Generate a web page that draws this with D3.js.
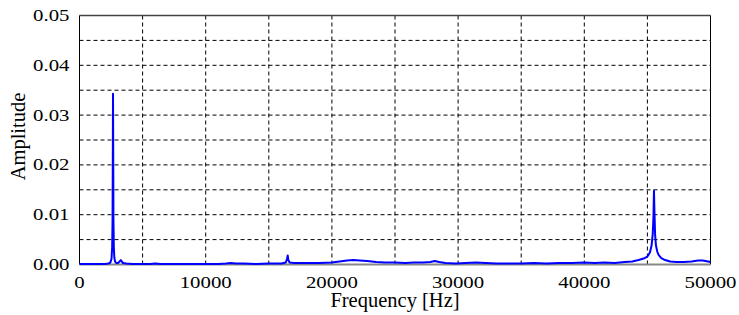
<!DOCTYPE html>
<html>
<head>
<meta charset="utf-8">
<script src="https://cdn.jsdelivr.net/npm/d3@7"></script>
<style>
  body { margin: 0; background: #fff; }
</style>
</head>
<body>
<div id="chart"></div>
<script>
// spectrum (Hz, amplitude)
var freq = [0, 500, 1000, 1500, 2000, 2300, 2450, 2540, 2590, 2620, 2640, 2655, 2670, 2690, 2720, 2760, 2820, 2900, 3050, 3180, 3270, 3350, 3450, 3700, 4200, 5000, 5600, 6000, 6400, 7000, 8000, 9000, 10000, 11000, 11600, 12000, 12400, 13000, 14000, 15000, 16000, 16350, 16450, 16500, 16550, 16650, 17000, 18000, 19000, 20000, 20600, 21200, 21700, 22200, 22800, 23500, 24200, 25000, 25800, 26500, 27200, 27800, 28150, 28500, 29000, 29800, 30600, 31400, 32200, 33000, 34000, 35000, 36000, 37000, 38000, 39000, 40000, 40800, 41600, 42400, 43200, 43800, 44300, 44700, 45000, 45200, 45330, 45420, 45480, 45520, 45560, 45610, 45680, 45780, 45900, 46100, 46400, 46800, 47300, 47900, 48500, 49000, 49400, 49800, 50000];
var amp = [0.0001, 0.0001, 0.0001, 0.0001, 0.0001, 0.0002, 0.0004, 0.0012, 0.0035, 0.009, 0.022, 0.0343, 0.024, 0.009, 0.0035, 0.0014, 0.0006, 0.0003, 0.0003, 0.0006, 0.0009, 0.0006, 0.0003, 0.0002, 0.0001, 0.0001, 0.0001, 0.0002, 0.0001, 0.0001, 0.0001, 0.0001, 0.0001, 0.0001, 0.0002, 0.0003, 0.0002, 0.0002, 0.0001, 0.0002, 0.0002, 0.0004, 0.0012, 0.0018, 0.0009, 0.0004, 0.0003, 0.0003, 0.0003, 0.0004, 0.0006, 0.0008, 0.0009, 0.0008, 0.0007, 0.0005, 0.0004, 0.0004, 0.0003, 0.0004, 0.0004, 0.0005, 0.0007, 0.0005, 0.0003, 0.0002, 0.0003, 0.0004, 0.0003, 0.0002, 0.0002, 0.0002, 0.0003, 0.0002, 0.0003, 0.0003, 0.0004, 0.0003, 0.0004, 0.0003, 0.0005, 0.0006, 0.0009, 0.0012, 0.0016, 0.0024, 0.0038, 0.006, 0.0095, 0.0148, 0.0105, 0.006, 0.0038, 0.0026, 0.0019, 0.0013, 0.0009, 0.0006, 0.0005, 0.0005, 0.0006, 0.0008, 0.0008, 0.0006, 0.0005];

var xTicks = [0, 10000, 20000, 30000, 40000, 50000];
var yTicks = [0, 0.01, 0.02, 0.03, 0.04, 0.05];
var xGrid = [5000, 10000, 15000, 20000, 25000, 30000, 35000, 40000, 45000];
var yGrid = [0.005, 0.01, 0.015, 0.02, 0.025, 0.03, 0.035, 0.04, 0.045];

var width = 739, height = 315;
var margin = {left: 79.5, right: 28.5, top: 15.5, bottom: 50.5};
var serif = "'Liberation Serif', 'Times New Roman', Tinos, 'DejaVu Serif', serif";

var svg = d3.select("#chart").append("svg")
    .attr("width", width)
    .attr("height", height)
    .attr("font-family", serif);

var x = d3.scaleLinear().domain([0, 50000]).range([margin.left, width - margin.right]);
var y = d3.scaleLinear().domain([0, 0.05]).range([height - margin.bottom, margin.top]);

// dashed grid
svg.append("g").selectAll("line")
    .data(xGrid)
  .enter().append("line")
    .attr("x1", d => x(d)).attr("x2", d => x(d))
    .attr("y1", y(0)).attr("y2", y(0.05))
    .attr("stroke", "#000")
    .attr("stroke-dasharray", "4,3");

svg.append("g").selectAll("line")
    .data(yGrid)
  .enter().append("line")
    .attr("x1", x(0)).attr("x2", x(50000))
    .attr("y1", d => y(d)).attr("y2", d => y(d))
    .attr("stroke", "#000")
    .attr("stroke-dasharray", "4,3");

// frame
svg.append("line")
    .attr("x1", x(0)).attr("x2", x(50000))
    .attr("y1", y(0.05)).attr("y2", y(0.05))
    .attr("stroke", "#444").attr("stroke-width", 1.5);
svg.append("line")
    .attr("x1", x(0)).attr("x2", x(0))
    .attr("y1", y(0)).attr("y2", y(0.05))
    .attr("stroke", "#000");
svg.append("line")
    .attr("x1", x(50000)).attr("x2", x(50000))
    .attr("y1", y(0)).attr("y2", y(0.05))
    .attr("stroke", "#000");
svg.append("line")
    .attr("x1", x(0)).attr("x2", x(50000))
    .attr("y1", y(0)).attr("y2", y(0))
    .attr("stroke", "#888").attr("stroke-width", 2);

// tick labels (the original font is stretched sideways)
var fmtX = d3.format("d"), fmtY = d3.format(".2f");

svg.append("g").selectAll("text")
    .data(xTicks)
  .enter().append("text")
    .attr("transform", d => "translate(" + x(d) + "," + (y(0) + 23.5) + ") scale(1.3,1)")
    .attr("text-anchor", "middle")
    .style("font-family", serif)
    .style("font-size", "16px")
    .text(fmtX);

svg.append("g").selectAll("text")
    .data(yTicks)
  .enter().append("text")
    .attr("transform", d => "translate(" + (x(0) - 10) + "," + (y(d) + 5.5) + ") scale(1.3,1)")
    .attr("text-anchor", "end")
    .style("font-family", serif)
    .style("font-size", "16px")
    .text(fmtY);

// spectrum
var line = d3.line()
    .x(function(d, i) { return x(freq[i]); })
    .y(function(d) { return y(d); });

svg.append("path")
    .datum(amp)
    .attr("d", line)
    .attr("fill", "none")
    .attr("stroke", "#0000ff")
    .attr("stroke-width", 2)
    .attr("stroke-linejoin", "round");

// axis titles
svg.append("text")
    .attr("x", (x(0) + x(50000)) / 2)
    .attr("y", 306.5)
    .attr("text-anchor", "middle")
    .style("font-family", serif)
    .style("font-size", "20.5px")
    .text("Frequency [Hz]");

svg.append("text")
    .attr("transform", "translate(25,136.5) rotate(-90)")
    .attr("text-anchor", "middle")
    .style("font-family", serif)
    .style("font-size", "20.5px")
    .text("Amplitude");
</script>
</body>
</html>
